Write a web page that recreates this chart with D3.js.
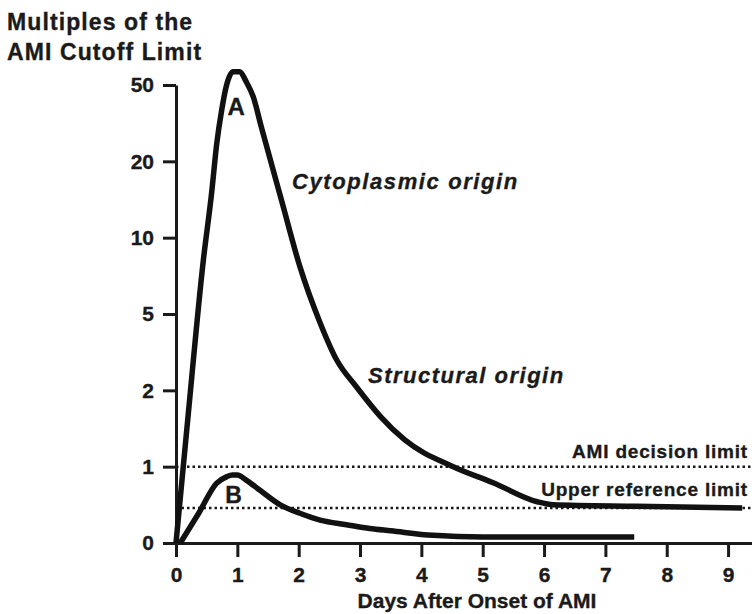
<!DOCTYPE html>
<html>
<head>
<meta charset="utf-8">
<script src="https://cdn.jsdelivr.net/npm/d3@7"></script>
<style>
  body { margin: 0; background: #fff; }
  svg text { font-family: "Liberation Sans", Arial, Helvetica, sans-serif; font-weight: bold; fill: #1a1a1a; stroke: #1a1a1a; stroke-width: 0.35px; }
</style>
</head>
<body>
<svg id="chart"></svg>
<script>
// tick labels (y axis is evenly spaced, not proportional)
const yTicks = [0, 1, 2, 5, 10, 20, 50];
const xTicks = [0, 1, 2, 3, 4, 5, 6, 7, 8, 9];

// curve A - cytoplasmic origin (days, multiples of cutoff)
const daysA = [0, 0.2, 0.445, 0.58, 0.665, 0.745, 0.825, 0.93, 1.04, 1.14, 1.26, 1.39, 1.72, 2.02, 2.35, 2.62, 2.94, 3.33, 3.73, 4.52, 5.17, 5.89, 6.15, 7.5, 9.23];
const valsA = [0, 1.69, 8.5, 15.8, 27.1, 40.2, 50, 55.2, 55.2, 51.5, 45.3, 33.6, 14.9, 8.1, 4.65, 3.19, 2.14, 1.66, 1.35, 1.0, 0.79, 0.54, 0.5, 0.48, 0.46];

// curve B - structural origin
const daysB = [0.07, 0.37, 0.66, 0.83, 0.92, 1.0, 1.15, 1.37, 1.7, 2.02, 2.35, 2.78, 3.16, 3.5, 4.19, 5.0, 7.47];
const valsB = [0, 0.39, 0.78, 0.87, 0.89, 0.89, 0.82, 0.69, 0.5, 0.39, 0.3, 0.24, 0.19, 0.16, 0.1, 0.08, 0.08];

// reference lines
const limitNames = ["AMI decision limit", "Upper reference limit"];
const limitVals = [1, 0.46];

const width = 752, height = 614;
const x0 = 176, yBase = 543, yTop = 85;

const svg = d3.select("#chart").attr("width", width).attr("height", height);

const x = d3.scaleLinear().domain([0, 9.39]).range([x0, width]);
const step = (yBase - yTop) / (yTicks.length - 1);
const y = d3.scaleLinear()
  .domain(yTicks)
  .range(yTicks.map((d, i) => yBase - i * step));

// dotted limit lines
svg.append("g")
  .selectAll("line")
  .data(limitVals)
  .join("line")
  .attr("x1", x(0)).attr("x2", width)
  .attr("y1", d => y(d)).attr("y2", d => y(d))
  .attr("stroke", "#1a1a1a")
  .attr("stroke-width", 2.5)
  .attr("stroke-dasharray", "2.5,3");

svg.append("g")
  .selectAll("text")
  .data(limitNames)
  .join("text")
  .attr("x", 748)
  .attr("y", (d, i) => y(limitVals[i]) - (i == 0 ? 9 : 12))
  .attr("text-anchor", "end")
  .style("font-size", "19px")
  .style("letter-spacing", "0.8px")
  .text(d => d);

// axes
const xAxis = d3.axisBottom(x).tickValues(xTicks).tickSize(14).tickSizeOuter(0).tickPadding(10);
const yAxis = d3.axisLeft(y).tickValues(yTicks).tickSize(13).tickSizeOuter(0).tickPadding(9);

const gx = svg.append("g").attr("transform", "translate(0," + yBase + ")").call(xAxis);
const gy = svg.append("g").attr("transform", "translate(" + x0 + ",0)").call(yAxis);

[gx, gy].forEach(g => {
  g.select(".domain").attr("stroke", "#1a1a1a").attr("stroke-width", 3);
  g.selectAll(".tick line").attr("stroke", "#1a1a1a").attr("stroke-width", 3);
  g.selectAll(".tick text").style("font-size", "21px").attr("fill", "#1a1a1a");
});

// curves
const line = d3.line()
  .x(d => x(d[0]))
  .y(d => y(d[1]))
  .curve(d3.curveMonotoneX);

svg.append("path")
  .datum(d3.zip(daysA, valsA))
  .attr("d", line)
  .attr("fill", "none")
  .attr("stroke", "#111")
  .attr("stroke-width", 5.5)
  .attr("stroke-linejoin", "round");

svg.append("path")
  .datum(d3.zip(daysB, valsB))
  .attr("d", line)
  .attr("fill", "none")
  .attr("stroke", "#111")
  .attr("stroke-width", 5.5)
  .attr("stroke-linejoin", "round");

// labels
svg.append("text").attr("x", x(0.98)).attr("y", 115).attr("text-anchor", "middle")
  .style("font-size", "24px").text("A");
svg.append("text").attr("x", x(0.94)).attr("y", 503).attr("text-anchor", "middle")
  .style("font-size", "23px").text("B");

svg.append("text").attr("x", 292).attr("y", 189)
  .style("font-size", "22px").style("font-style", "italic").style("letter-spacing", "1.6px")
  .text("Cytoplasmic origin");
svg.append("text").attr("x", 368).attr("y", 383)
  .style("font-size", "22px").style("font-style", "italic").style("letter-spacing", "1.5px")
  .text("Structural origin");

// axis titles
svg.append("text").attr("x", 7).attr("y", 30)
  .style("font-size", "23px").style("letter-spacing", "1.1px").text("Multiples of the");
svg.append("text").attr("x", 7).attr("y", 60)
  .style("font-size", "23px").style("letter-spacing", "1.1px").text("AMI Cutoff Limit");

svg.append("text").attr("x", 477).attr("y", 608).attr("text-anchor", "middle")
  .style("font-size", "21px").text("Days After Onset of AMI");
</script>
</body>
</html>
